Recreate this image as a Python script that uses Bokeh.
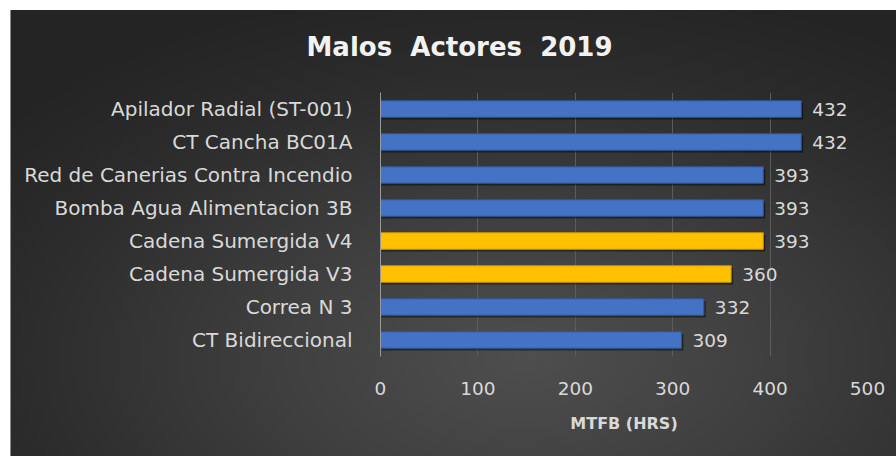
from bokeh.plotting import figure
from bokeh.models import ColumnDataSource, Range1d, FactorRange, Title
from bokeh.transform import dodge
from bokeh.core.properties import value
from bokeh.embed import file_html
from bokeh.resources import INLINE

categories = ["Apilador Radial (ST-001)", "CT Cancha BC01A", "Red de Canerias Contra Incendio",
              "Bomba Agua Alimentacion 3B", "Cadena Sumergida V4", "Cadena Sumergida V3",
              "Correa N 3", "CT Bidireccional"]
mtbf = [432, 432, 393, 393, 393, 360, 332, 309]
highlight = [False, False, False, False, True, True, False, False]
x_ticks = [0, 100, 200, 300, 400, 500]
title_text = "Malos\u00a0\u00a0Actores\u00a0\u00a02019"

fills = ["#ffc000" if h else "#4472c4" for h in highlight]
lines = ["#c99a00" if h else "#2f5597" for h in highlight]
src = ColumnDataSource(dict(cat=categories, v=mtbf, fill=fills, line=lines,
                            lab=[str(v) for v in mtbf]))

FONT = "DejaVu Sans"
p = figure(width=886, height=446, output_backend="svg", toolbar_location=None,
           y_range=FactorRange(*reversed(categories)), x_range=Range1d(0, 500),
           min_border_left=369, min_border_right=30, min_border_top=82, min_border_bottom=100)
p.styles = {"margin-left": "10px", "margin-top": "10px",
            "background": "radial-gradient(ellipse 75% 85% at 58% 78%, #4e4e4e 0%, #404040 35%, #2c2c2c 75%, #242424 100%)",
            "border-left": "1px solid #8a8a8a"}
p.background_fill_alpha = 0
p.border_fill_alpha = 0
p.outline_line_color = None

# spacer between frame and title (panels stack outward from the frame)
spacer = Title(text="\u00a0", text_font_size="1px", standoff=26, text_color="#333333")
p.add_layout(spacer, "above")
t = Title(text=title_text, align="left", offset=-74, standoff=4,
          text_font=FONT, text_font_size="26px", text_font_style="bold", text_color="#f2f2f2")
p.add_layout(t, "above")

# shadow
p.hbar(y=dodge("cat", -0.07, range=p.y_range), right=dodge("v", 2), left=1, height=0.5,
       source=src, fill_color="black", fill_alpha=0.45, line_color=None)
p.hbar(y="cat", right="v", left=0, height=0.5, source=src, fill_color="fill",
       line_color="line", line_width=1)

p.text(x="v", y="cat", text="lab", source=src, x_offset=11, text_baseline="middle",
       text_font=value(FONT), text_font_size="18.5px", text_color="#d9d9d9")

p.xaxis.ticker = x_ticks
p.xaxis.axis_line_color = None
p.xaxis.major_tick_line_color = None
p.xaxis.minor_tick_line_color = None
p.xaxis.major_label_standoff = 19
p.xaxis.major_label_text_font = FONT
p.xaxis.major_label_text_font_size = "18.5px"
p.xaxis.major_label_text_color = "#d9d9d9"
p.xaxis.axis_label = "MTFB (HRS)"
p.xaxis.axis_label_standoff = 16
p.xaxis.axis_label_text_font = FONT
p.xaxis.axis_label_text_font_size = "16px"
p.xaxis.axis_label_text_font_style = "bold"
p.xaxis.axis_label_text_color = "#d9d9d9"

p.yaxis.axis_line_color = "#9a9a9a"
p.yaxis.major_tick_line_color = None
p.yaxis.minor_tick_line_color = None
p.yaxis.major_label_standoff = 22
p.yaxis.major_label_text_font = FONT
p.yaxis.major_label_text_font_size = "20px"
p.yaxis.major_label_text_color = "#d9d9d9"

p.ygrid.grid_line_color = None
p.xgrid.grid_line_color = "#5c5c5c"
p.xgrid.ticker = x_ticks

open("out.html", "w").write(file_html(p, INLINE))
